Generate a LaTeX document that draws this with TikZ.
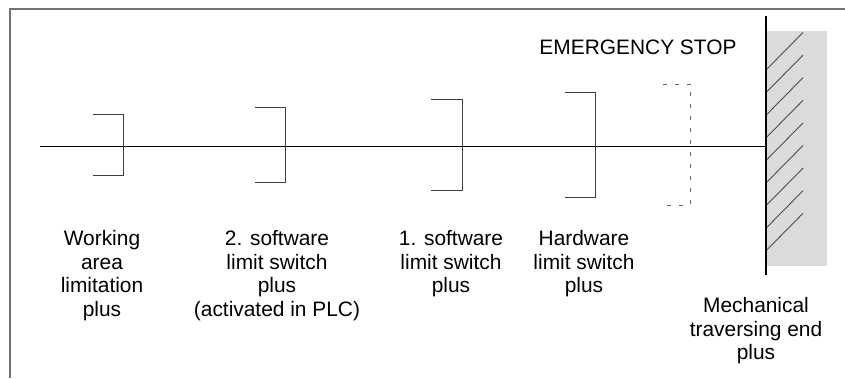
\documentclass[tikz,border=0pt]{standalone}
\usepackage{fontspec}
\setmainfont{Liberation Sans}
\usetikzlibrary{positioning}

\begin{document}
\begin{tikzpicture}[x=1pt,y=-1pt,
  lbl/.style={align=center,inner sep=0pt,anchor=north,font=\fontsize{20.9}{23.5}\selectfont},
  stopline/.style={draw=black!75,line width=1pt},
  hatchline/.style={draw=black!70,line width=.9pt}]
\useasboundingbox (0,0) rectangle (845,378);
% frame
\draw[black!55,line width=1.6pt] (10,378)--(10,9)--(845,9);
% wall
\fill[black!14] (766,31) rectangle (827,266);
\foreach \i in {0,...,8}{\draw[hatchline] (766,{70+22.6*\i})--++(37,-37.5);}
\coordinate (walltop) at (766,16);
\coordinate (wallbot) at (766,275);
\draw[line width=2pt] (walltop)--(wallbot);
% axis
\coordinate (start) at (40,146.5);
\coordinate (hit) at (766,146.5);
\draw[line width=1pt] (start)--(hit);
% limit brackets
\foreach \l/\r/\t/\b in {93/123.4/114.3/175.3,255/285.3/107/182.7,431/462/99.3/190,564.7/595.8/92/197.7}{
  \draw[stopline] (\l,\t)--(\r,\t)--(\r,\b)--(\l,\b);}
\draw[stopline,black!60,dash pattern=on 4pt off 8pt] (662.7,84.3)--(690.7,84.3)--(690.7,205)--(662.7,205);
% labels
\node[lbl,anchor=base] (estop) at (638,54){EMERGENCY STOP};
\node[lbl] (wa) at (102,230.5){Working\\area\\limitation\\plus};
\node[lbl] (sw2) at (277,230.5){2. software\\limit switch\\plus\\(activated in PLC)};
\node[lbl] (sw1) at (451,230.5){1. software\\limit switch\\plus};
\node[lbl] (hw) at (584,230.5){Hardware\\limit switch\\plus};
\node[lbl] (mech) at (756,297.5){Mechanical\\traversing end\\plus};
\end{tikzpicture}
\end{document}
